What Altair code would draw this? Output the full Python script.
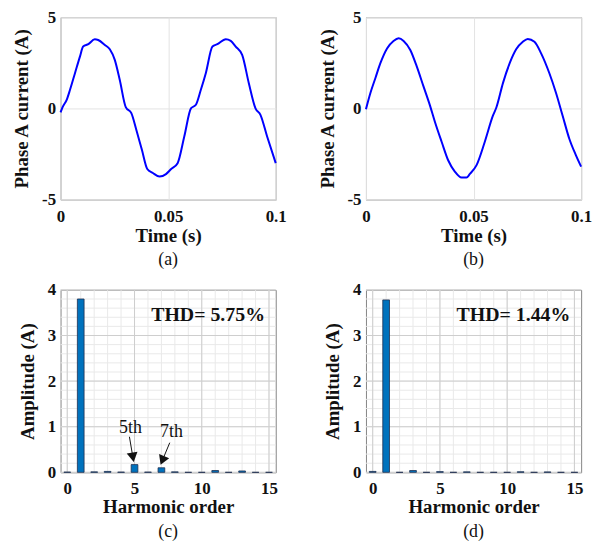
import altair as alt
import pandas as pd

# ---------- data ----------
# (a) distorted phase-A current
t_a = [0, 0.00085, 0.00285, 0.0044, 0.0067, 0.0090, 0.0105, 0.0129, 0.0159, 0.0175,
       0.0206, 0.0229, 0.0252, 0.0275, 0.0303, 0.0329, 0.0352, 0.0378, 0.0403, 0.0429,
       0.0460, 0.0490, 0.0514, 0.0544, 0.0575, 0.0606, 0.0629, 0.0652, 0.0675, 0.0706,
       0.0729, 0.0768, 0.0791, 0.0814, 0.0844, 0.0875, 0.0906, 0.0929, 0.0960, 0.1000]
i_a = [-0.22, 0.05, 0.47, 1.02, 1.93, 2.84, 3.39, 3.52, 3.79, 3.75,
       3.48, 3.24, 2.66, 1.57, 0.07, -0.26, -1.17, -2.27, -3.32, -3.54,
       -3.73, -3.60, -3.32, -3.00, -1.54, 0.00, 0.20, 1.02, 1.93, 3.39,
       3.52, 3.79, 3.70, 3.39, 2.93, 1.38, 0.00, -0.35, -1.54, -3.00]

# (b) compensated phase-A current
t_b = [0, 0.0021, 0.0044, 0.0067, 0.0098, 0.0128, 0.0152, 0.0175, 0.0206, 0.0236,
       0.0267, 0.0298, 0.0321, 0.0352, 0.0382, 0.0413, 0.0444, 0.0467, 0.0483, 0.0514,
       0.0552, 0.0590, 0.0606, 0.0637, 0.0668, 0.0698, 0.0729, 0.0752, 0.0783, 0.0814,
       0.0852, 0.0883, 0.0914, 0.0945, 0.0976, 0.1000]
i_b = [-0.04, 0.86, 1.67, 2.48, 3.29, 3.70, 3.85, 3.70, 3.20, 2.30,
       1.22, 0.14, -0.76, -1.84, -2.84, -3.46, -3.79, -3.79, -3.59, -3.11,
       -1.84, -0.40, 0.05, 1.40, 2.48, 3.24, 3.65, 3.81, 3.65, 3.02,
       1.94, 0.86, -0.40, -1.66, -2.57, -3.19]

# (c), (d) harmonic spectra
orders = list(range(16))
amp_c = [0.005, 3.80, 0.010, 0.020, 0.005, 0.17, 0.005, 0.10, 0.010, 0.0, 0.0, 0.04, 0.0, 0.03, 0.0, 0.0]
amp_d = [0.020, 3.78, 0.0, 0.040, 0.0, 0.015, 0.0, 0.010, 0.0, 0.0, 0.0, 0.012, 0.0, 0.008, 0.0, 0.0]

thd_c = "THD= 5.75%"
thd_d = "THD= 1.44%"
captions = ["(a)", "(b)", "(c)", "(d)"]

# tick / grid values of the spectrum axes
x_minor = list(range(16))
y_minor = [0, 0.2, 0.4, 0.6, 0.8, 1, 1.2, 1.4, 1.6, 1.8, 2, 2.2, 2.4, 2.6, 2.8, 3,
           3.2, 3.4, 3.6, 3.8, 4]
x_major = [0, 5, 10, 15]
y_major = [0, 1, 2, 3, 4]

W, H = 217, 184
FONT = "Liberation Serif"
BLUE = "#0000ff"
BAR = "#0072bd"
MAJOR, MINOR = "#cdcdcd", "#e9e9e9"


def caption(txt):
    return alt.TitleParams(txt, orient="bottom", font=FONT, fontSize=18,
                           fontWeight="normal", color="#111", offset=6)


def wave(t, i, cap):
    df = pd.DataFrame({"t": t, "i": i})
    return alt.Chart(df).mark_line(color=BLUE, strokeWidth=2, interpolate="monotone").encode(
        x=alt.X("t:Q", scale=alt.Scale(domain=[0, 0.1], nice=False),
                axis=alt.Axis(values=[0, 0.05, 0.1], title="Time (s)", labelExpr="'' + datum.value",
                              labelPadding=9, titlePadding=2, labelOverlap=False)),
        y=alt.Y("i:Q", scale=alt.Scale(domain=[-5, 5], nice=False),
                axis=alt.Axis(values=[-5, 0, 5], title="Phase A current (A)",
                              labelExpr="'' + datum.value", labelPadding=5, titlePadding=10,
                              labelOverlap=False)),
    ).properties(width=W, height=H, title=caption(cap))


def spectrum(amp, thd, cap, notes=False):
    df = pd.DataFrame({"h": orders, "a": amp})
    xs = alt.Scale(domain=[-0.5, 15.5], nice=False)
    ys = alt.Scale(domain=[0, 4], nice=False)

    # base layers: minor grid, with the real tick labels on the major values
    xgrid = alt.Chart(pd.DataFrame({"v": x_minor})).mark_rule(color=MINOR, strokeWidth=1).encode(
        x=alt.X("v:Q", scale=xs,
                axis=alt.Axis(values=x_major, title="Harmonic order", grid=False,
                              labelPadding=8, titlePadding=2, labelOverlap=False)))
    ygrid = alt.Chart(pd.DataFrame({"v": y_minor})).mark_rule(color=MINOR, strokeWidth=1).encode(
        y=alt.Y("v:Q", scale=ys,
                axis=alt.Axis(values=y_major, title="Amplitude (A)", grid=False,
                              labelPadding=5, titlePadding=10, labelOverlap=False)))
    xmaj = alt.Chart(pd.DataFrame({"v": x_major})).mark_rule(color=MAJOR, strokeWidth=1).encode(
        x=alt.X("v:Q", scale=xs))
    ymaj = alt.Chart(pd.DataFrame({"v": y_major})).mark_rule(color=MAJOR, strokeWidth=1).encode(
        y=alt.Y("v:Q", scale=ys))

    bars = alt.Chart(df).transform_calculate(
        x0="datum.h - 0.25", x1="datum.h + 0.25"
    ).mark_bar(color=BAR, stroke="#1f2f4f", strokeWidth=0.8).encode(
        x=alt.X("x0:Q", scale=xs), x2="x1:Q",
        y=alt.Y("a:Q", scale=ys), y2=alt.datum(0),
    )
    thd_txt = alt.Chart(pd.DataFrame({"s": [thd]})).mark_text(
        font=FONT, fontSize=20, fontWeight="bold", align="right", baseline="middle", color="#111"
    ).encode(x=alt.datum(14.7, scale=xs), y=alt.datum(3.45, scale=ys), text="s:N")
    layers = [xgrid, ygrid, xmaj, ymaj, bars, thd_txt]
    if notes:
        lab = pd.DataFrame({"s": ["5th", "7th"], "x": [4.7, 7.75], "y": [0.98, 0.88]})
        labels = alt.Chart(lab).mark_text(font=FONT, fontSize=18, color="#111").encode(
            x=alt.X("x:Q", scale=xs), y=alt.Y("y:Q", scale=ys), text="s:N")
        arr = pd.DataFrame({"x": [4.62, 7.62], "y": [0.78, 0.65],
                            "x2": [4.88, 7.07], "y2": [0.33, 0.26],
                            "ang": [350, 22]})
        shafts = alt.Chart(arr).mark_rule(color="#111", strokeWidth=1).encode(
            x=alt.X("x:Q", scale=xs), y=alt.Y("y:Q", scale=ys),
            x2="x2:Q", y2="y2:Q")
        heads = alt.Chart(arr).mark_point(shape="triangle-down", filled=True, color="#111",
                                          size=120, opacity=1).encode(
            x=alt.X("x2:Q", scale=xs), y=alt.Y("y2:Q", scale=ys),
            angle=alt.Angle("ang:Q", scale=None))
        layers += [shafts, heads, labels]
    return alt.layer(*layers).properties(width=W, height=H, title=caption(cap))


a = wave(t_a, i_a, captions[0])
b = wave(t_b, i_b, captions[1])
c = spectrum(amp_c, thd_c, captions[2], notes=True)
d = spectrum(amp_d, thd_d, captions[3])

chart = alt.concat(a, b, c, d, columns=2, spacing=91, bounds="flush").properties(
    padding={"left": 4, "top": -3, "right": 4, "bottom": 0},
    background="white",
).configure_view(stroke="#858585", strokeWidth=1).configure_axis(
    labelFont=FONT, labelFontSize=17, labelFontWeight="bold", labelColor="#111",
    titleFont=FONT, titleFontSize=19, titleFontWeight="bold", titleColor="#111",
    ticks=False, domain=False, gridColor="#e3e3e3", gridWidth=1,
    labelFlush=False, labelOverlap=False
)

chart.save("out.html", embed_options={"renderer": "svg", "actions": False})
